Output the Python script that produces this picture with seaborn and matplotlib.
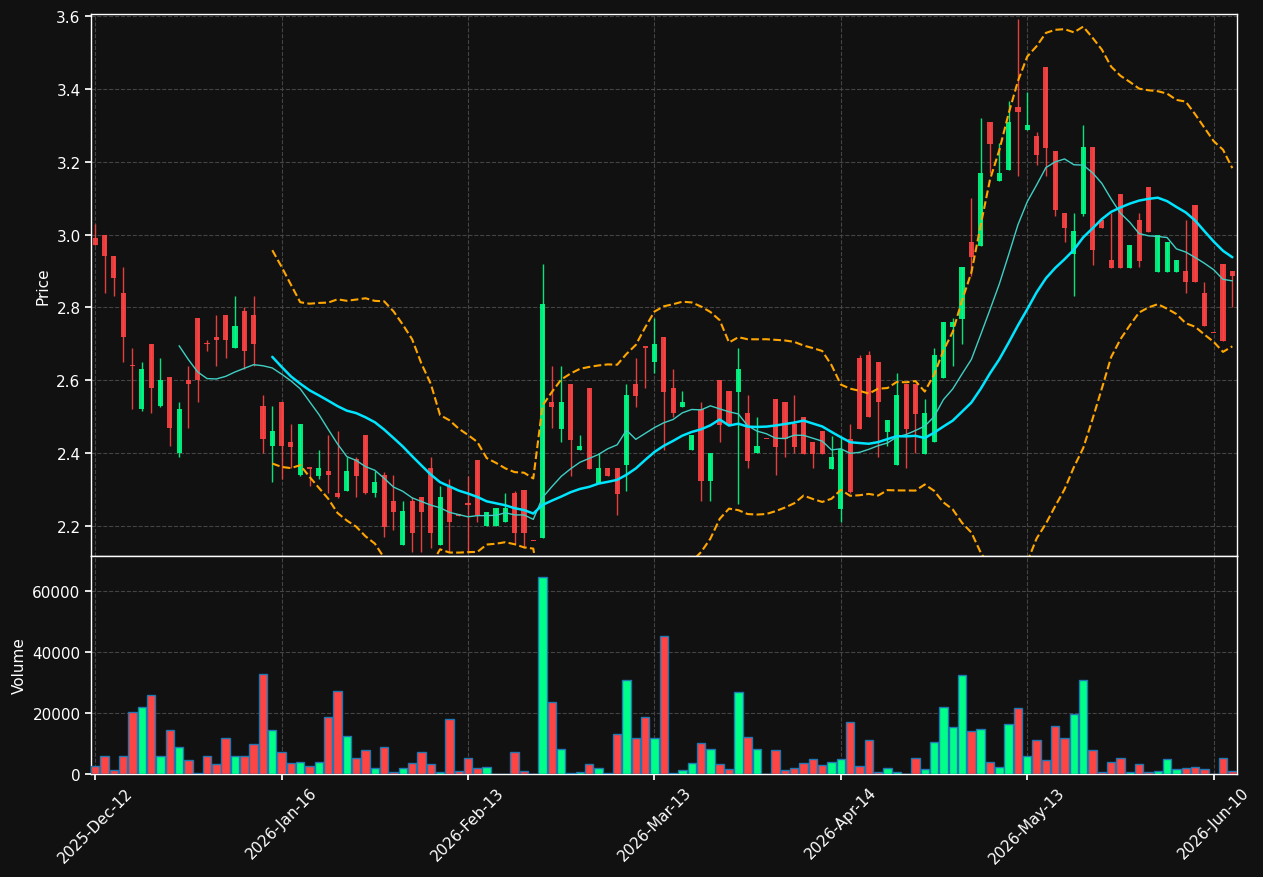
import numpy as np
import pandas as pd
import seaborn as sns
import matplotlib.pyplot as plt

# daily OHLC (one entry per candle, 123 candles)
opens = [
    2.99, 3.00, 2.94, 2.84, 2.640, 2.52, 2.70, 2.53, 2.61, 2.40,
    2.60, 2.77, 2.701, 2.72, 2.78, 2.69, 2.79, 2.78, 2.53, 2.42,
    2.54, 2.43, 2.34, 2.360, 2.337, 2.35, 2.29, 2.296, 2.384, 2.45,
    2.29, 2.34, 2.27, 2.148, 2.27, 2.28, 2.36, 2.148, 2.31, 2.232,
    2.261, 2.381, 2.20, 2.20, 2.21, 2.29, 2.30, 2.160, 2.167, 2.54,
    2.466, 2.59, 2.409, 2.58, 2.318, 2.359, 2.359, 2.367, 2.59, 2.692,
    2.65, 2.72, 2.58, 2.527, 2.409, 2.52, 2.325, 2.60, 2.57, 2.568,
    2.51, 2.40, 2.440, 2.55, 2.54, 2.48, 2.50, 2.43, 2.46, 2.356,
    2.247, 2.44, 2.66, 2.67, 2.65, 2.458, 2.367, 2.59, 2.59, 2.397,
    2.431, 2.606, 2.746, 2.768, 2.98, 2.969, 3.31, 3.147, 3.177, 3.35,
    3.287, 3.27, 3.46, 3.23, 3.06, 2.947, 3.057, 3.24, 3.04, 2.93,
    3.11, 2.908, 3.04, 3.13, 2.897, 2.897, 2.897, 2.90, 3.08, 2.84,
    2.731, 2.92, 2.90,
]
highs = [
    3.03, 3.00, 2.94, 2.91, 2.69, 2.65, 2.70, 2.66, 2.61, 2.54,
    2.64, 2.77, 2.71, 2.78, 2.78, 2.83, 2.80, 2.83, 2.56, 2.53,
    2.54, 2.48, 2.48, 2.360, 2.41, 2.45, 2.46, 2.39, 2.39, 2.45,
    2.35, 2.348, 2.34, 2.27, 2.28, 2.28, 2.39, 2.31, 2.33, 2.232,
    2.337, 2.381, 2.24, 2.25, 2.29, 2.295, 2.30, 2.160, 2.92, 2.64,
    2.64, 2.59, 2.45, 2.58, 2.40, 2.359, 2.36, 2.59, 2.66, 2.692,
    2.77, 2.72, 2.63, 2.57, 2.45, 2.54, 2.40, 2.60, 2.57, 2.69,
    2.56, 2.50, 2.440, 2.55, 2.54, 2.56, 2.50, 2.43, 2.46, 2.447,
    2.444, 2.48, 2.67, 2.68, 2.65, 2.491, 2.62, 2.59, 2.59, 2.55,
    2.69, 2.76, 2.771, 2.911, 3.10, 3.32, 3.31, 3.25, 3.367, 3.59,
    3.39, 3.28, 3.46, 3.23, 3.06, 3.06, 3.30, 3.24, 3.04, 3.06,
    3.11, 2.971, 3.06, 3.13, 3.00, 2.98, 2.93, 3.04, 3.08, 2.87,
    2.731, 2.92, 2.90,
]
lows = [
    2.97, 2.84, 2.83, 2.65, 2.52, 2.515, 2.51, 2.527, 2.42, 2.39,
    2.47, 2.54, 2.68, 2.64, 2.66, 2.69, 2.63, 2.64, 2.40, 2.32,
    2.33, 2.36, 2.337, 2.31, 2.33, 2.29, 2.277, 2.296, 2.28, 2.288,
    2.28, 2.17, 2.19, 2.148, 2.13, 2.13, 2.14, 2.148, 2.13, 2.228,
    2.125, 2.211, 2.20, 2.20, 2.21, 2.15, 2.14, 2.158, 2.167, 2.47,
    2.43, 2.337, 2.409, 2.356, 2.318, 2.337, 2.23, 2.296, 2.527, 2.58,
    2.62, 2.41, 2.50, 2.527, 2.409, 2.27, 2.27, 2.43, 2.477, 2.26,
    2.36, 2.40, 2.438, 2.34, 2.39, 2.40, 2.397, 2.36, 2.397, 2.356,
    2.21, 2.29, 2.466, 2.50, 2.39, 2.42, 2.367, 2.36, 2.40, 2.397,
    2.431, 2.606, 2.64, 2.70, 2.886, 2.969, 3.17, 3.147, 3.177, 3.16,
    3.287, 3.19, 3.16, 3.05, 2.98, 2.83, 3.05, 2.917, 3.018, 2.908,
    2.908, 2.908, 2.91, 3.007, 2.897, 2.897, 2.897, 2.84, 2.87, 2.749,
    2.729, 2.708, 2.80,
]
closes = [
    2.97, 2.94, 2.88, 2.72, 2.638, 2.63, 2.58, 2.60, 2.47, 2.52,
    2.59, 2.60, 2.699, 2.71, 2.71, 2.75, 2.68, 2.70, 2.44, 2.46,
    2.42, 2.417, 2.48, 2.358, 2.359, 2.34, 2.28, 2.351, 2.337, 2.29,
    2.32, 2.197, 2.24, 2.241, 2.18, 2.24, 2.18, 2.28, 2.21, 2.228,
    2.259, 2.230, 2.24, 2.25, 2.25, 2.18, 2.18, 2.158, 2.81, 2.527,
    2.54, 2.436, 2.42, 2.356, 2.359, 2.337, 2.288, 2.56, 2.557, 2.690,
    2.70, 2.568, 2.51, 2.54, 2.45, 2.325, 2.40, 2.477, 2.477, 2.63,
    2.378, 2.42, 2.438, 2.417, 2.44, 2.417, 2.397, 2.397, 2.397, 2.389,
    2.411, 2.293, 2.466, 2.50, 2.54, 2.491, 2.56, 2.466, 2.507, 2.51,
    2.669, 2.76, 2.76, 2.911, 2.938, 3.169, 3.249, 3.169, 3.309, 3.336,
    3.30, 3.218, 3.238, 3.067, 3.018, 3.01, 3.24, 2.958, 3.018, 2.908,
    2.908, 2.971, 2.927, 3.007, 3.00, 2.98, 2.93, 2.87, 2.87, 2.749,
    2.729, 2.708, 2.886,
]
volumes = [
    2700, 6000, 1400, 6000, 20400, 21900, 26000, 6000, 14500, 9000,
    4700, 330, 6000, 3200, 11900, 6000, 6000, 9700, 32900, 14500,
    7300, 3500, 3800, 2700, 4000, 18600, 27300, 12400, 5100, 8000,
    1900, 9000, 550, 1900, 3500, 7100, 3200, 550, 18100, 900,
    5400, 2100, 2400, 100, 100, 7300, 900, 50, 64500, 23500,
    8300, 300, 550, 3200, 2100, 300, 13000, 30900, 11700, 18600,
    11700, 45100, 300, 1200, 3500, 10100, 8100, 3200, 1500, 27000,
    12000, 8300, 50, 7800, 1200, 1900, 3500, 4800, 2800, 4000,
    4800, 16900, 2700, 11000, 550, 1900, 550, 100, 5400, 1500,
    10400, 21900, 15300, 32400, 14000, 14600, 3800, 2400, 16300, 21500,
    5800, 11000, 4500, 15600, 11700, 19600, 30700, 7800, 550, 3800,
    5100, 550, 3200, 550, 900, 4800, 1500, 1900, 2200, 1500,
    50, 5400, 900,
]
# every 20th trading day is labelled
tick_labels = ['2025-Dec-12', '2026-Jan-16', '2026-Feb-13', '2026-Mar-13',
               '2026-Apr-14', '2026-May-13', '2026-Jun-10']

UP, DOWN = '#00ff88', '#ff4444'
BG = '#111111'

df = pd.DataFrame({'open': opens, 'high': highs, 'low': lows,
                   'close': closes, 'volume': volumes})
df['idx'] = np.arange(len(df))
df['dir'] = np.where(df['close'] >= df['open'], 'up', 'down')
df['ma10'] = df['close'].rolling(10).mean()
df['ma20'] = df['close'].rolling(20).mean()
std20 = df['close'].rolling(20).std()
df['bb_up'] = df['ma20'] + 2 * std20
df['bb_lo'] = df['ma20'] - 2 * std20

sns.set_theme(style='dark', rc={
    'figure.facecolor': BG, 'axes.facecolor': BG, 'axes.edgecolor': 'white',
    'axes.labelcolor': 'white', 'xtick.color': 'white', 'ytick.color': 'white',
    'text.color': 'white', 'grid.color': '#444444', 'grid.linestyle': '--',
    'xtick.bottom': True, 'ytick.left': True,
})
plt.rcParams['font.family'] = ['DejaVu Sans']

fig, (ax, axv) = plt.subplots(
    2, 1, figsize=(12.63, 8.78), dpi=100, sharex=True,
    gridspec_kw={'height_ratios': [542, 218], 'hspace': 0})
fig.subplots_adjust(left=91 / 1263, right=1237 / 1263,
                    top=1 - 15 / 878, bottom=1 - 775 / 878)

# candles
colors = np.where(df['dir'] == 'up', UP, DOWN)
ax.vlines(df['idx'], df['low'], df['high'], colors=colors, linewidth=1, alpha=0.9, zorder=2)
body_lo = df[['open', 'close']].min(axis=1)
body_h = (df['close'] - df['open']).abs().clip(lower=0.004)
ax.bar(df['idx'], body_h, bottom=body_lo, width=0.55, color=colors, alpha=0.9,
       linewidth=0, zorder=3)

# averages and bands
sns.lineplot(data=df, x='idx', y='ma10', ax=ax, color='#3fcfc4', linewidth=1, zorder=4)
sns.lineplot(data=df, x='idx', y='ma20', ax=ax, color='#00e5ff', linewidth=1.8, zorder=4)
sns.lineplot(data=df, x='idx', y='bb_up', ax=ax, color='orange', linewidth=1.5,
             linestyle='--', zorder=4)
sns.lineplot(data=df, x='idx', y='bb_lo', ax=ax, color='orange', linewidth=1.5,
             linestyle='--', zorder=4)

ax.set_ylim(2.118, 3.605)
ax.set_ylabel('Price', fontsize=11)
ax.set_xlabel('')
ax.grid(True, color='#444444', linestyle='--', linewidth=0.8)
ax.tick_params(axis='x', length=0)
ax.tick_params(axis='y', labelsize=11, length=4)

# volume
sns.barplot(data=df, x='idx', y='volume', hue='dir', palette={'up': UP, 'down': DOWN},
            native_scale=True, dodge=False, width=0.9, errorbar=None, legend=False,
            saturation=1, edgecolor='#1f77b4', linewidth=1, ax=axv, zorder=3)
axv.set_ylim(0, 71500)
axv.set_yticks([0, 20000, 40000, 60000])
axv.set_ylabel('Volume', fontsize=11)
axv.set_xlabel('')
axv.grid(True, color='#444444', linestyle='--', linewidth=0.8)
axv.set_xticks(df['idx'][::20])
axv.set_xticklabels(tick_labels, rotation=45, fontsize=11)
axv.tick_params(axis='y', labelsize=11, length=4)
axv.tick_params(axis='x', length=4)
axv.set_xlim(-0.45, len(df) - 0.5)

for a in (ax, axv):
    for s in a.spines.values():
        s.set_color('white')
        s.set_linewidth(1)

fig.savefig('out.png', dpi=100, facecolor=BG)
